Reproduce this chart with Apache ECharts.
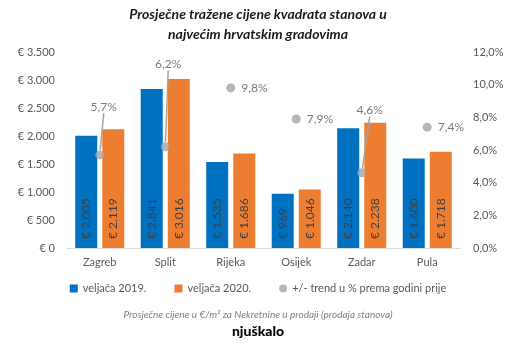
<!DOCTYPE html>
<html><head><meta charset="utf-8">
<script src="https://cdn.jsdelivr.net/npm/echarts@6/dist/echarts.min.js"></script>
<style>html,body{margin:0;padding:0;background:#fff}#c{width:516px;height:344px}</style>
</head><body><div id="c"></div>
<script>
const categories = ['Zagreb', 'Split', 'Rijeka', 'Osijek', 'Zadar', 'Pula'];
const values2019 = [2005, 2841, 1535, 969, 2140, 1600];
const values2020 = [2119, 3016, 1686, 1046, 2238, 1718];
const trendPct = [5.7, 6.2, 9.8, 7.9, 4.6, 7.4];
const seriesNames = ['veljača 2019.', 'veljača 2020.', '+/- trend u % prema godini prije'];

const FONT = 'Lato';
const fmtEur = v => '€ ' + String(v).replace(/\B(?=(\d{3})+(?!\d))/g, '.');
const fmtPct = v => v.toFixed(1).replace('.', ',') + '%';

// label offsets for points whose label sits above with a leader line
const labelUp = {0: [4, -31], 1: [3, -66], 4: [8, -46]};

const chart = echarts.init(document.getElementById('c'));
const barLabel = {
  show: true, position: 'insideBottom', rotate: 90, align: 'left', verticalAlign: 'middle',
  distance: 9, color: '#404040', fontSize: 12, fontFamily: FONT,
  formatter: p => fmtEur(p.value)
};
chart.setOption({
  animation: false,
  textStyle: {fontFamily: FONT},
  title: {
    text: 'Prosječne tražene cijene kvadrata stanova u\nnajvećim hrvatskim gradovima',
    left: 'center', top: -1,
    textStyle: {fontSize: 14, fontWeight: 'bold', fontStyle: 'italic', color: '#1a1a1a', lineHeight: 20, fontFamily: FONT}
  },
  legend: {
    top: 278, left: 'center', itemGap: 28, itemWidth: 8, itemHeight: 8,
    textStyle: {fontSize: 11, color: '#595959', fontFamily: FONT},
    data: [
      {name: seriesNames[0], icon: 'rect'},
      {name: seriesNames[1], icon: 'rect'},
      {name: seriesNames[2], icon: 'circle'}
    ]
  },
  grid: {left: 67, right: 56, top: 52, bottom: 96},
  xAxis: {
    type: 'category', data: categories,
    axisLine: {lineStyle: {color: '#D9D9D9'}}, axisTick: {show: false},
    axisLabel: {color: '#595959', fontSize: 11, margin: 9}
  },
  yAxis: [
    {type: 'value', min: 0, max: 3500, interval: 500, splitLine: {show: false},
     axisLabel: {color: '#595959', fontSize: 11, margin: 12, formatter: fmtEur}},
    {type: 'value', min: 0, max: 12, interval: 2, splitLine: {show: false},
     axisLabel: {color: '#595959', fontSize: 11, margin: 13, formatter: fmtPct}}
  ],
  series: [
    {name: seriesNames[0], type: 'bar', data: values2019, barWidth: 22, barGap: '23%',
     itemStyle: {color: '#0070C0'}, label: barLabel},
    {name: seriesNames[1], type: 'bar', data: values2020, barWidth: 22,
     itemStyle: {color: '#ED7D31'}, label: barLabel},
    {name: seriesNames[2], type: 'scatter', yAxisIndex: 1,
     symbolSize: 9, itemStyle: {color: '#A5A5A5'}, z: 5,
     label: {
       show: true, fontSize: 12, color: '#595959', fontFamily: FONT,
       formatter: p => fmtPct(p.value),
       position: 'right', distance: 6
     },
     labelLine: {show: true, lineStyle: {color: '#A5A5A5', width: 1.5}},
     labelLayout: function (p) {
       const u = labelUp[p.dataIndex];
       return u ? {dx: u[0], dy: u[1]} : {};
     },
     data: trendPct.map((v, i) => labelUp[i]
       ? {value: v, label: {position: 'top'}}
       : {value: v, labelLine: {show: false}})
    }
  ],
  graphic: [
    {type: 'text', left: 'center', top: 310,
     style: {text: 'Prosječne cijene u €/m² za Nekretnine u prodaji (prodaja stanova)', fontSize: 10, fontStyle: 'italic', fill: '#7f7f7f', fontFamily: FONT}},
    {type: 'text', left: 'center', top: 324,
     style: {text: 'njuškalo', fontSize: 14, fontWeight: 900, fill: '#000', fontFamily: FONT}}
  ]
});
</script>
</body></html>
